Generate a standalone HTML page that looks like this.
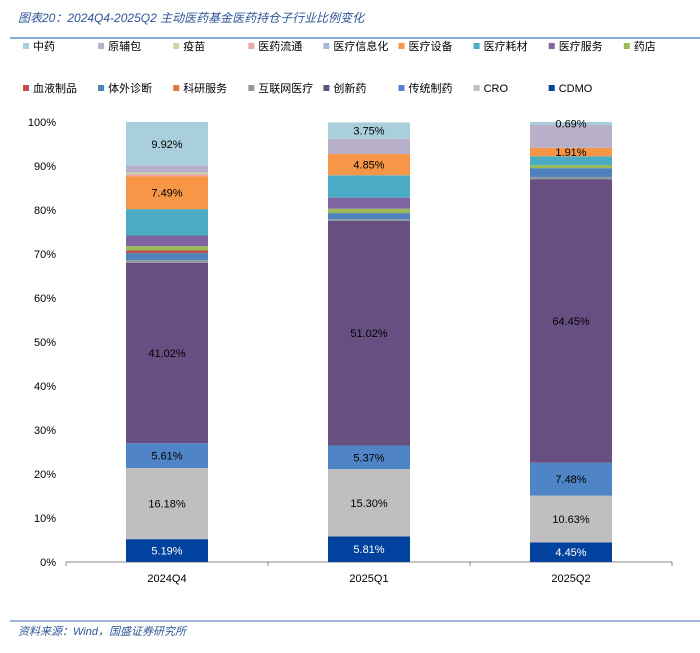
<!DOCTYPE html>
<html><head><meta charset="utf-8"><style>
body{margin:0;background:#fff;}
svg text{font-family:"Liberation Sans","Noto Sans CJK SC",sans-serif;}
</style></head><body>
<svg width="700" height="648" xmlns="http://www.w3.org/2000/svg" id="chart">
<text x="18" y="22" font-size="12" font-style="italic" fill="#2e5597">图表20：2024Q4-2025Q2 主动医药基金医药持仓子行业比例变化</text>
<line x1="10" y1="38" x2="700" y2="38" stroke="#8eaadb" stroke-width="2"/>
<g id="legend"></g>
<g id="axes"></g>
<g id="bars"></g>
<line x1="10" y1="621" x2="700" y2="621" stroke="#4472c4" stroke-width="1"/>
<text x="18" y="635" font-size="11" font-style="italic" fill="#2e5597">资料来源：Wind，国盛证券研究所</text>
</svg>
<script>
const categories = ["2024Q4","2025Q1","2025Q2"];
const seriesNames = ["CDMO","CRO","传统制药","创新药","互联网医疗","科研服务","体外诊断","血液制品","药店","医疗服务","医疗耗材","医疗设备","医疗信息化","医药流通","疫苗","原辅包","中药"];
const seriesColors = ["#00429d","#bfbfbf","#4f85c6","#674f82","#8d9a9e","#e07b39","#4f81bd","#c0504d","#9bbb59","#8064a2","#4bacc6","#f79646","#a8b8d8","#e3a9a8","#c5dca8","#b8afc9","#a9cfdc"];
const values2024Q4 = [5.19,16.18,5.61,41.02,0.6,0,1.6,0.6,1.0,2.4,6.0,7.49,0,0.5,0.3,1.6,9.92];
const values2025Q1 = [5.81,15.30,5.37,51.02,0.4,0,1.4,0,1.0,2.5,5.1,4.85,0,0,0,3.4,3.75];
const values2025Q2 = [4.45,10.63,7.48,64.45,0.5,0,2.0,0,0.7,0,2.0,1.91,0,0,0,5.2,0.69];
const labeled = [0,1,2,3,11,16];
const yTicks = [0,10,20,30,40,50,60,70,80,90,100];
const legendOrder = ["中药","原辅包","疫苗","医药流通","医疗信息化","医疗设备","医疗耗材","医疗服务","药店","血液制品","体外诊断","科研服务","互联网医疗","创新药","传统制药","CRO","CDMO"];
const NS="http://www.w3.org/2000/svg";
const X0=66,X1=672,Y0=562,Y1=122,BW=82;
function y(v){return Y0-(v/100)*(Y0-Y1);}
function xc(i){return X0+(X1-X0)/categories.length*(i+0.5);}
function mk(t,a,p){const e=document.createElementNS(NS,t);for(const k in a)e.setAttribute(k,a[k]);p.appendChild(e);return e;}
const axes=document.getElementById('axes'),bars=document.getElementById('bars'),legend=document.getElementById('legend');
yTicks.forEach(t=>{const e=mk('text',{x:56,y:y(t)+4,'font-size':11,'text-anchor':'end',fill:'#000'},axes);e.textContent=t+'%';

});
const ax=mk('line',{x1:X0,y1:Y0,x2:X1,y2:Y0,stroke:'#888'},axes);


for(let i=0;i<=categories.length;i++){const tk=mk('line',{x1:X0+(X1-X0)/categories.length*i,y1:Y0,x2:X0+(X1-X0)/categories.length*i,y2:Y0+4,stroke:'#888'},axes);

}
const allVals=[values2024Q4,values2025Q1,values2025Q2];
categories.forEach((c,i)=>{
 const lt=mk('text',{x:xc(i),y:Y0+20,'font-size':11,'text-anchor':'middle'},axes);lt.textContent=c;
 
 
 let cum=0;
 allVals[i].forEach((v,s)=>{
  if(v<=0)return;
  const r=mk('rect',{x:xc(i)-BW/2,y:y(cum+v),width:BW,height:y(cum)-y(cum+v),fill:seriesColors[s]},bars);
  
  
  if(labeled.includes(s)){
   const t=mk('text',{x:xc(i),y:(y(cum)+y(cum+v))/2+4,'font-size':11,'text-anchor':'middle',fill:s===0?'#fff':'#000'},bars);
   t.textContent=v.toFixed(2)+'%';
   
   
  }
  cum+=v;
 });
});
legendOrder.forEach((n,k)=>{
 const row=k<9?0:1,col=k<9?k:k-9;
 const lx=23+col*75.1,ly=row?91:49;
 const g=mk('g',{},legend);
 
 
 mk('rect',{x:lx,y:ly-6,width:6,height:6,fill:seriesColors[seriesNames.indexOf(n)]},g);
 const t=mk('text',{x:lx+10,y:ly+1,'font-size':11},g);t.textContent=n;
});
</script>
</body></html>
